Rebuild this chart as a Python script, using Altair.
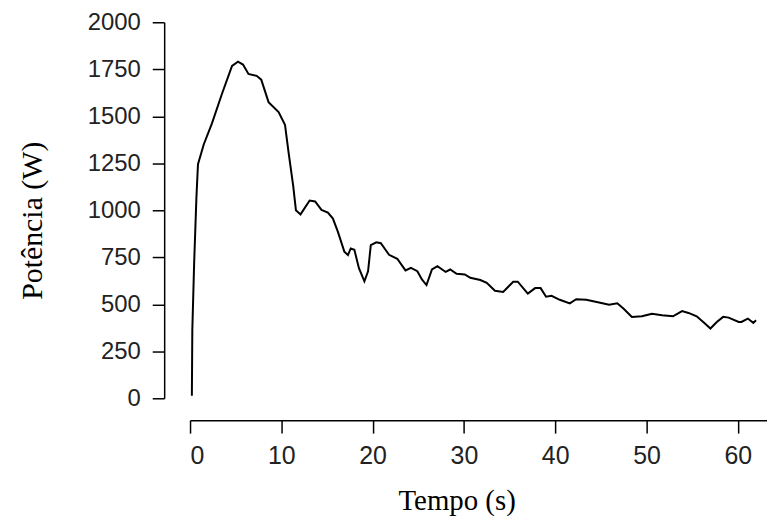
import altair as alt
import pandas as pd

tempo = [0.2, 0.25, 0.45, 0.7, 0.87, 1.5, 2.4, 3.5, 4.6, 5.25, 5.8, 6.4, 7.3, 7.8, 8.6, 9.7,
         10.4, 10.8, 11.3, 11.6, 12.1, 13.1, 13.7, 14.4, 15.1, 15.65, 16.2, 16.9, 17.3, 17.6,
         18.0, 18.5, 19.1, 19.5, 19.8, 20.4, 20.9, 21.8, 22.7, 23.6, 24.2, 24.9, 25.4, 25.9,
         26.5, 27.1, 28.0, 28.5, 29.2, 30.1, 30.7, 31.8, 32.5, 33.4, 34.3, 35.4, 35.9, 37.0,
         37.8, 38.4, 39.0, 39.6, 40.5, 41.6, 42.3, 43.4, 44.8, 45.9, 46.8, 47.5, 48.4, 49.5,
         50.6, 51.7, 52.9, 53.9, 54.6, 55.5, 56.4, 57.0, 57.7, 58.4, 59.0, 60.1, 60.4, 61.1,
         61.7, 62.0]
potencia = [14, 365, 720, 1070, 1245, 1350, 1462, 1620, 1768, 1790, 1775, 1725, 1715, 1695, 1575, 1522,
            1455, 1305, 1130, 1000, 978, 1052, 1047, 1002, 988, 956, 885, 780, 762, 797,
            790, 692, 622, 675, 815, 830, 825, 763, 742, 680, 694, 676, 632, 602,
            685, 703, 672, 685, 662, 659, 641, 629, 614, 572, 566, 620, 620, 557,
            586, 586, 540, 545, 524, 505, 527, 524, 510, 498, 505, 476, 432, 436,
            450, 442, 436, 464, 454, 436, 398, 371, 406, 433, 429, 406, 406, 424,
            401, 415]

x_ticks = [0, 10, 20, 30, 40, 50, 60]
y_ticks = [0, 250, 500, 750, 1000, 1250, 1500, 1750, 2000]

df = pd.DataFrame({"t": tempo, "p": potencia})

chart = alt.Chart(df).mark_line(color="black", strokeWidth=2, interpolate="linear").encode(
    x=alt.X("t:Q", scale=alt.Scale(domain=[0, 63.2], nice=False, zero=False),
            axis=alt.Axis(values=x_ticks, format="d", title="Tempo (s)", offset=22, tickSize=13,
                          labelPadding=11, labelFontSize=25, labelFont="Liberation Sans",
                          titleFont="Liberation Serif", titleFontSize=29, titleFontWeight="normal",
                          titleX=268, titleY=90, titleAlign="center", titleBaseline="alphabetic",
                          grid=False, domainColor="black", tickColor="black",
                          domainWidth=1.5, tickWidth=1.5, labelColor="#222", titleColor="black")),
    y=alt.Y("p:Q", scale=alt.Scale(domain=[0, 2000], nice=False),
            axis=alt.Axis(values=y_ticks, format="d", title="Potência (W)", offset=26, tickSize=12,
                          labelPadding=12, labelFontSize=24, labelFont="Liberation Sans",
                          titleFont="Liberation Serif", titleFontSize=30, titleFontWeight="normal",
                          titleX=-123, titleY=199, titleAngle=-90, titleAlign="center",
                          titleBaseline="alphabetic",
                          grid=False, domainColor="black", tickColor="black",
                          domainWidth=1.5, tickWidth=1.5, labelColor="#222", titleColor="black")),
).properties(
    width=580, height=378,
    background="white",
    autosize=alt.AutoSizeParams(type="none"),
    padding={"left": 183, "top": 13, "right": 0, "bottom": 120},
).configure_view(strokeWidth=0, stroke=None)

chart.save("out.html", embed_options={"renderer": "svg", "actions": False})
